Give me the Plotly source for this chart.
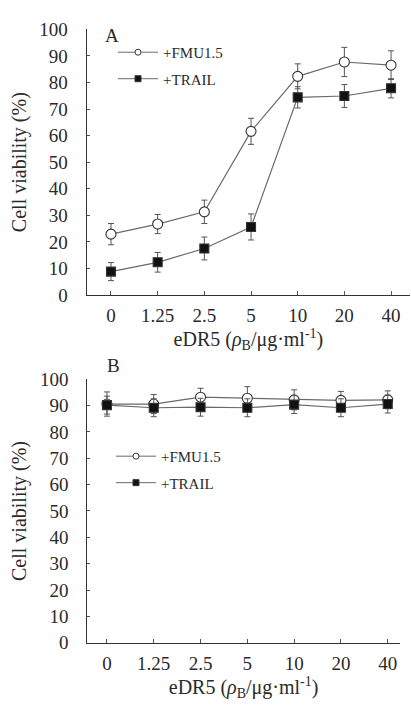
import plotly.graph_objects as go

categories = ["0", "1.25", "2.5", "5", "10", "20", "40"]

# Panel A
a_fmu = [22.9, 26.7, 31.3, 61.6, 82.3, 87.7, 86.5]
a_fmu_err = [4.0, 3.6, 4.4, 4.9, 4.7, 5.5, 5.4]
a_trail = [8.8, 12.3, 17.5, 25.6, 74.4, 74.9, 77.8]
a_trail_err = [3.4, 3.7, 4.3, 4.9, 4.0, 4.3, 3.6]

# Panel B
b_fmu = [90.6, 90.6, 93.2, 92.8, 92.2, 92.0, 92.2]
b_fmu_err = [4.6, 3.6, 3.4, 4.4, 3.8, 3.4, 3.4]
b_trail = [90.2, 89.2, 89.4, 89.2, 90.4, 89.2, 90.6]
b_trail_err = [3.4, 3.4, 3.4, 3.4, 3.4, 3.4, 3.4]

y_ticks = [0, 10, 20, 30, 40, 50, 60, 70, 80, 90, 100]

FONT = "Liberation Serif, Times New Roman, serif"
TXT = "#2a2a2a"
LINE = "#6a6a6a"

STYLE = {
    "+FMU1.5": dict(symbol="circle", color="white"),
    "+TRAIL": dict(symbol="square", color="#111111"),
}

fig = go.Figure()

def add_series(y, err, name, size, xa, ya):
    st = STYLE[name]
    fig.add_trace(go.Scatter(
        x=categories, y=y, name=name, mode="lines+markers",
        xaxis=xa, yaxis=ya, showlegend=False,
        line=dict(color=LINE, width=1.2),
        marker=dict(symbol=st["symbol"], size=size, color=st["color"],
                    line=dict(color="#333333", width=1.1)),
        error_y=dict(type="data", array=err, visible=True, thickness=1, width=3, color="#555555"),
    ))

def add_legend_entry(name, size, xa, ya, legend):
    st = STYLE[name]
    fig.add_trace(go.Scatter(
        x=[None], y=[None], name=name, mode="lines+markers",
        xaxis=xa, yaxis=ya, legend=legend, legendgroup=legend + name, showlegend=True,
        line=dict(color=LINE, width=1),
        marker=dict(symbol=st["symbol"], size=size, color=st["color"],
                    line=dict(color="#333333", width=1)),
    ))

add_series(a_fmu, a_fmu_err, "+FMU1.5", 10, "x", "y")
add_series(a_trail, a_trail_err, "+TRAIL", 9, "x", "y")
add_series(b_fmu, b_fmu_err, "+FMU1.5", 10, "x2", "y2")
add_series(b_trail, b_trail_err, "+TRAIL", 9, "x2", "y2")

add_legend_entry("+FMU1.5", 6, "x", "y", "legend")
add_legend_entry("+TRAIL", 6, "x", "y", "legend")
add_legend_entry("+FMU1.5", 6, "x2", "y2", "legend2")
add_legend_entry("+TRAIL", 6, "x2", "y2", "legend2")

xtitle = "eDR5 (<i>ρ</i><sub>B</sub>/μg·ml<sup>-1</sup>)"

def xaxis_cfg(domain, rng, anchor):
    return dict(domain=domain, range=rng, anchor=anchor, type="category", automargin=False,
                showline=True, linecolor="#333333", linewidth=1.2,
                ticks="inside", ticklen=4, tickcolor="#555555",
                tickfont=dict(family=FONT, size=19, color=TXT),
                ticklabelstandoff=3,
                title=dict(text=xtitle, font=dict(family=FONT, size=20, color=TXT), standoff=6),
                showgrid=False, zeroline=False, fixedrange=True)

def yaxis_cfg(domain, anchor):
    return dict(domain=domain, range=[0, 100], anchor=anchor, automargin=False,
                tickvals=y_ticks, showline=True, linecolor="#333333", linewidth=1.2,
                ticks="inside", ticklen=3, tickcolor="#555555",
                tickfont=dict(family=FONT, size=19, color=TXT),
                ticklabelstandoff=14,
                title=dict(text="Cell viability (%)", font=dict(family=FONT, size=20, color=TXT), standoff=7),
                showgrid=False, zeroline=False, fixedrange=True)

fig.update_layout(
    width=411, height=705,
    margin=dict(l=0, r=0, t=0, b=0, autoexpand=False),
    paper_bgcolor="white", plot_bgcolor="white",
    xaxis=xaxis_cfg([0.211, 0.998], [-0.52, 6.41], "y"),
    yaxis=yaxis_cfg([0.5816, 0.9584], "x"),
    xaxis2=xaxis_cfg([0.2124, 0.973], [-0.42, 6.26], "y2"),
    yaxis2=yaxis_cfg([0.0884, 0.462], "x2"),
    legend=dict(x=0.275, y=0.949, xanchor="left", yanchor="top", bgcolor="rgba(0,0,0,0)",
                itemwidth=40,
                font=dict(family=FONT, size=15, color=TXT), tracegroupgap=4, traceorder="grouped"),
    legend2=dict(x=0.27, y=0.376, xanchor="left", yanchor="top", bgcolor="rgba(0,0,0,0)",
                 itemwidth=40,
                 font=dict(family=FONT, size=15, color=TXT), tracegroupgap=4, traceorder="grouped"),
    annotations=[
        dict(text="A", x=103 / 411, y=1 - 23 / 705, xref="paper", yref="paper", showarrow=False,
             font=dict(family=FONT, size=19, color=TXT)),
        dict(text="B", x=105 / 411, y=1 - 365 / 705, xref="paper", yref="paper", showarrow=False,
             font=dict(family=FONT, size=19, color=TXT)),
    ],
)

fig.write_html("out.html", config={"displayModeBar": False},
               post_script="document.body.style.margin='0';document.body.style.overflow='hidden';")
